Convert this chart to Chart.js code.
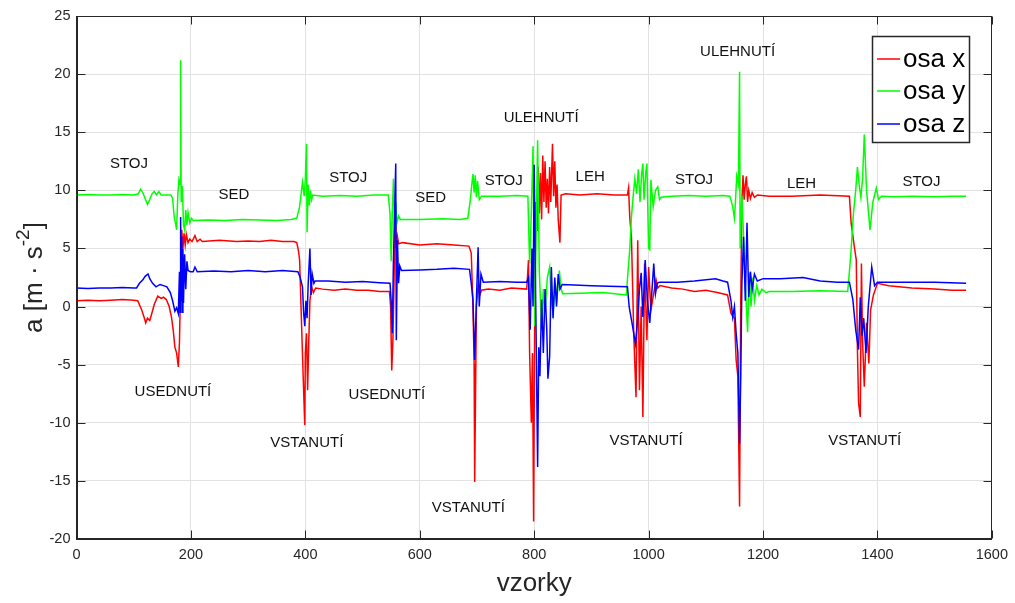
<!DOCTYPE html>
<html>
<head>
<meta charset="utf-8">
<script src="https://cdn.jsdelivr.net/npm/chart.js@4.4.1/dist/chart.umd.min.js"></script>
<style>
html,body{margin:0;padding:0;background:#fff;}
canvas{display:block;}
</style>
</head>
<body>
<canvas id="c" width="1015" height="603"></canvas>
<script>
// ---------- data ----------
const seriesNames = ['osa x', 'osa y', 'osa z'];
const xTickValues = [0, 200, 400, 600, 800, 1000, 1200, 1400, 1600];
const yTickValues = [-20, -15, -10, -5, 0, 5, 10, 15, 20, 25];
const xAxisTitle = 'vzorky';
const yAxisTitleParts = ['a [m · s', '-2', ']'];   // base, superscript, closing

const osaXSamples = [0,20,40,60,80,100,107,114,118,121,124,128,131,136,142,148,152,157,162,166,169,172,175,178,180,182,184,186,188,190,192,195,198,202,207,211,216,220,250,280,300,320,340,360,380,385,388,390,393,396,399,400,402,404,406,408,411,414,418,430,450,470,490,510,530,547,549,551,553,555,557,559,561,563,570,600,630,660,686,690,693,695,696,698,699,702,705,708,720,740,760,787,790,792,795,797,799,801,803,805,807,809,811,813,815,817,819,821,823,825,827,829,832,834,836,838,840,842,845,847,855,880,910,940,963,965,967,970,974,978,981,984,987,990,993,997,1000,1004,1013,1016,1020,1040,1060,1080,1100,1120,1138,1144,1150,1153,1156,1159,1161,1163,1165,1167,1169,1171,1173,1175,1178,1181,1185,1190,1211,1250,1300,1351,1354,1360,1363,1365,1367,1370,1372,1374,1377,1381,1385,1388,1393,1400,1420,1460,1500,1530,1555];
const osaXValues  = [0.5,0.55,0.5,0.55,0.6,0.55,0.5,-0.3,-0.9,-1.4,-1.0,-1.2,-0.7,0.2,0.9,0.7,0.8,0.6,0.0,-0.9,-2.0,-3.5,-4.0,-5.2,-3.0,2.0,6.6,5.0,6.3,5.3,6.2,5.5,5.8,5.6,6.1,5.6,5.8,5.6,5.7,5.6,5.65,5.6,5.7,5.6,5.6,5.5,4.8,4.0,-0.9,-5.7,-10.2,-4.0,-2.3,-7.2,-3.0,0.5,1.7,1.2,1.6,1.5,1.4,1.5,1.4,1.4,1.3,1.3,0.0,-5.5,-3.0,2.0,8.5,5.0,6.0,5.4,5.5,5.3,5.4,5.3,5.2,4.6,0.0,-4.9,-15.1,-5.0,0.0,1.8,1.0,1.4,1.5,1.4,1.6,1.5,4.0,-4.0,-10.0,-4.0,-18.5,0.0,9.0,6.5,12.0,8.0,11.5,7.5,13.0,9.0,12.5,8.5,11.0,8.0,12.0,9.0,14.0,9.5,12.5,8.5,10.5,7.5,5.5,9.6,9.7,9.6,9.7,9.6,9.6,10.2,7.7,6.0,-2.3,-7.8,5.7,-7.2,0.0,-9.5,3.7,-2.9,3.4,-0.3,2.3,1.6,1.8,1.6,1.5,1.3,1.4,1.2,1.0,-0.6,-1.0,-4.6,-6.0,-17.2,0.0,9.0,11.3,9.2,10.5,11.2,9.0,10.0,9.3,9.8,9.4,9.6,9.5,9.5,9.6,9.5,7.2,5.0,4.0,-3.7,-8.3,-9.5,3.7,-3.0,-6.9,-1.4,-4.9,-0.3,1.0,2.0,1.8,1.6,1.5,1.4,1.4];

const osaYSamples = [0,20,40,60,80,100,108,112,116,120,124,128,132,136,140,144,148,165,168,171,173,175,177,179,181,182,183,185,187,189,191,193,195,198,201,204,230,260,290,320,350,375,385,390,395,398,400,402,403,405,407,409,411,413,430,460,490,520,545,548,550,552,554,556,558,560,563,566,600,640,670,684,688,691,693,695,697,699,701,704,708,740,770,789,792,795,798,801,803,806,809,813,816,819,823,827,830,833,837,840,844,847,850,880,920,961,964,967,970,973,976,979,982,985,988,990,992,995,997,1000,1002,1004,1008,1012,1016,1019,1022,1040,1070,1100,1130,1142,1147,1150,1152,1154,1157,1159,1160,1163,1166,1169,1173,1176,1179,1182,1185,1189,1193,1198,1205,1211,1250,1300,1348,1351,1354,1358,1362,1365,1368,1371,1374,1377,1381,1387,1392,1398,1402,1407,1430,1460,1500,1530,1555];
const osaYValues  = [9.6,9.65,9.6,9.6,9.65,9.6,9.7,10.1,9.8,9.3,8.8,9.2,9.7,9.9,9.6,9.9,9.6,9.6,9.3,7.6,7.2,6.6,9.5,10.9,10.5,21.2,9.0,10.4,7.0,6.6,8.3,7.0,8.1,7.2,7.6,7.4,7.45,7.4,7.5,7.45,7.4,7.5,7.6,8.6,10.7,9.5,11.0,14.0,6.4,10.5,8.7,10.0,9.2,9.6,9.5,9.55,9.5,9.6,9.6,8.0,3.9,8.0,11.0,7.0,9.0,7.2,7.8,7.5,7.5,7.55,7.5,7.6,9.0,10.5,11.4,9.8,11.3,9.4,10.8,9.2,9.5,9.5,9.55,9.5,3.7,8.0,13.8,-1.7,5.0,14.3,3.0,-2.0,1.5,-0.5,2.5,3.4,0.5,-0.6,2.0,0.8,3.1,1.5,1.1,1.15,1.2,1.0,3.0,4.9,7.7,9.5,11.0,9.7,11.8,9.0,11.5,12.3,9.2,11.5,12.3,5.0,4.9,10.9,8.6,10.0,10.3,9.2,9.4,9.5,9.55,9.5,9.55,9.5,8.6,7.6,9.2,11.2,10.5,20.2,5.0,9.5,6.0,2.0,-2.2,2.9,0.0,2.5,0.5,1.8,1.0,1.5,1.2,1.3,1.3,1.35,1.3,3.0,4.9,8.0,10.0,12.0,10.5,9.4,11.0,14.8,10.0,6.6,9.0,10.2,9.2,9.5,9.45,9.5,9.45,9.5,9.5];

const osaZSamples = [0,20,40,60,80,100,105,110,116,120,125,128,133,139,146,152,158,164,168,172,175,178,180,181,182,183,184,185,186,187,189,191,193,195,199,204,207,211,240,270,300,330,360,387,391,395,397,399,401,403,405,408,410,412,415,417,440,470,500,530,548,550,552,554,556,558,559,561,563,565,568,600,630,660,687,690,693,696,699,702,704,707,711,740,770,787,790,793,796,798,800,802,804,806,808,810,813,816,819,822,824,827,830,833,836,839,842,845,849,870,900,930,963,966,972,977,981,984,987,990,994,998,1002,1006,1009,1012,1015,1019,1050,1080,1117,1130,1138,1144,1147,1150,1153,1156,1159,1161,1163,1166,1169,1172,1175,1178,1181,1185,1190,1200,1230,1270,1300,1330,1351,1357,1362,1367,1370,1373,1376,1380,1384,1390,1395,1400,1450,1500,1555];
const osaZValues  = [1.6,1.55,1.6,1.6,1.65,1.6,1.6,2.0,2.3,2.6,2.8,2.4,2.0,1.7,1.9,1.8,1.7,1.2,0.5,-0.4,-0.1,-0.6,3.0,-0.5,7.7,0.5,6.0,-0.5,5.0,0.3,4.5,1.5,3.9,3.1,3.0,3.0,3.4,3.0,3.05,3.0,3.1,3.0,3.1,3.0,2.5,1.7,-0.5,-1.7,0.5,-1.0,2.0,5.0,1.0,2.8,2.0,2.2,2.2,2.1,2.15,2.05,2.0,0.5,-2.3,4.0,8.0,12.3,-2.9,5.7,2.0,3.5,3.1,3.15,3.2,3.3,3.2,2.0,0.6,-4.6,0.5,5.1,0.0,2.8,2.1,2.15,2.1,2.1,2.5,-2.0,5.0,0.0,12.2,3.0,-5.0,-13.8,-3.5,-6.0,0.6,-4.0,1.5,-2.0,-6.2,-4.3,3.4,-1.0,2.5,0.0,2.8,1.5,1.9,1.85,1.8,1.75,1.7,0.0,-1.7,-3.2,-1.0,1.5,2.9,-0.9,4.0,0.5,-1.4,1.5,3.7,1.1,2.0,2.1,2.1,2.2,2.4,2.2,2.1,0.5,-0.9,0.0,-2.3,-4.0,-11.8,-6.3,2.0,6.0,0.5,7.2,0.8,3.0,1.5,2.8,2.2,2.4,2.4,2.5,2.2,2.1,2.1,0.6,-2.0,-3.7,0.8,-2.5,-1.0,-4.0,0.0,3.4,1.8,2.1,2.1,2.1,2.0];

// event labels anchored in data coordinates (sample, acceleration)
const labelTexts   = ['STOJ','SED','USEDNUTÍ','STOJ','VSTANUTÍ','USEDNUTÍ','SED','STOJ','ULEHNUTÍ','LEH','VSTANUTÍ','STOJ','VSTANUTÍ','ULEHNUTÍ','LEH','STOJ','VSTANUTÍ'];
const labelSamples = [91.7,275,168.6,475,402.6,542.4,619.2,746.7,812.2,897.8,685,1079.5,995.6,1155.5,1267.2,1476.9,1377.8];
const labelValues  = [12.26,9.6,-7.36,11.06,-11.75,-7.62,9.34,10.8,16.2,11.14,-17.34,10.89,-11.57,21.9,10.6,10.7,-11.57];

// ---------- chart ----------
const colors = ['#ff0000', '#00ff00', '#0000ff'];
const toPoints = (xs, ys) => xs.map((s, i) => ({x: s, y: ys[i]}));
const INK = '#262626';
const FONT = '"Liberation Sans", Arial, sans-serif';

const decor = {
  id: 'decor',
  beforeDraw(chart) {
    const c = chart.ctx;
    c.save();
    c.fillStyle = '#ffffff';
    c.fillRect(0, 0, chart.width, chart.height);
    c.restore();
  },
  afterDatasetsDraw(chart) {
    const c = chart.ctx;
    const a = chart.chartArea;
    const xs = chart.scales.x, ys = chart.scales.y;
    c.save();
    // event labels
    c.fillStyle = '#111111';
    c.font = '15px ' + FONT;
    c.textAlign = 'center';
    c.textBaseline = 'middle';
    labelTexts.forEach((t, i) => {
      c.fillText(t, xs.getPixelForValue(labelSamples[i]), ys.getPixelForValue(labelValues[i]));
    });
    // axes box
    c.strokeStyle = INK;
    c.lineWidth = 1;
    const L = Math.round(a.left) + 0.5, R = Math.round(a.right) - 0.5, T = Math.round(a.top) + 0.5, B = Math.round(a.bottom) - 0.5;
    c.strokeRect(L, T, R - L, B - T);
    // inward ticks on all four sides
    c.beginPath();
    xTickValues.forEach(v => {
      const p = Math.round(xs.getPixelForValue(v)) + 0.5;
      c.moveTo(p, B); c.lineTo(p, B - 8);
      c.moveTo(p, T); c.lineTo(p, T + 8);
    });
    yTickValues.forEach(v => {
      const p = Math.round(ys.getPixelForValue(v)) + 0.5;
      c.moveTo(L, p); c.lineTo(L + 8, p);
      c.moveTo(R, p); c.lineTo(R - 8, p);
    });
    c.stroke();
    // y axis title with a real superscript
    const big = '26px ' + FONT, small = '19px ' + FONT;
    c.font = big; const w0 = c.measureText(yAxisTitleParts[0]).width;
    const w2 = c.measureText(yAxisTitleParts[2]).width;
    c.font = small; const w1 = c.measureText(yAxisTitleParts[1]).width;
    const total = w0 + w1 + w2;
    const cy = (a.top + a.bottom) / 2;
    c.translate(42, cy);
    c.rotate(-Math.PI / 2);
    c.fillStyle = INK;
    c.textAlign = 'left';
    c.textBaseline = 'alphabetic';
    let px = -total / 2;
    c.font = big; c.fillText(yAxisTitleParts[0], px, 0); px += w0;
    c.font = small; c.fillText(yAxisTitleParts[1], px, -13); px += w1;
    c.font = big; c.fillText(yAxisTitleParts[2], px, 0);
    c.setTransform(1, 0, 0, 1, 0, 0);
    // legend
    const bx = 872.5, by = 36.5, bw = 97, bh = 106;
    c.fillStyle = '#ffffff';
    c.fillRect(bx, by, bw, bh);
    c.lineWidth = 1.5;
    c.strokeStyle = INK;
    c.strokeRect(bx, by, bw, bh);
    c.font = '26px ' + FONT;
    c.textAlign = 'left';
    c.textBaseline = 'middle';
    const rows = [59, 91, 124];
    seriesNames.forEach((n, i) => {
      c.strokeStyle = colors[i];
      c.lineWidth = 1.5;
      c.beginPath();
      c.moveTo(877, rows[i]); c.lineTo(900, rows[i]);
      c.stroke();
      c.fillStyle = '#000000';
      c.fillText(n, 903, rows[i] + 1);
    });
    c.restore();
  }
};

new Chart(document.getElementById('c'), {
  type: 'line',
  data: {
    datasets: [
      {label: seriesNames[0], data: toPoints(osaXSamples, osaXValues), borderColor: colors[0], order: 3},
      {label: seriesNames[1], data: toPoints(osaYSamples, osaYValues), borderColor: colors[1], order: 2},
      {label: seriesNames[2], data: toPoints(osaZSamples, osaZValues), borderColor: colors[2], order: 1}
    ]
  },
  options: {
    responsive: false,
    devicePixelRatio: 1,
    animation: false,
    parsing: false,
    normalized: true,
    elements: {
      line: {borderWidth: 1.5, tension: 0, fill: false, borderCapStyle: 'butt', borderJoinStyle: 'miter'},
      point: {radius: 0, hoverRadius: 0}
    },
    layout: {padding: {top: 16, right: 22.5, left: 0, bottom: 0}},
    plugins: {legend: {display: false}, tooltip: {enabled: false}},
    scales: {
      x: {
        type: 'linear', min: 0, max: 1600,
        afterBuildTicks: s => { s.ticks = xTickValues.map(v => ({value: v})); },
        afterFit: s => { s.height = 64; },
        grid: {color: '#e2e2e2', drawTicks: false},
        border: {display: true, color: INK},
        ticks: {color: INK, padding: 7, callback: v => String(v), font: {size: 14.5, family: FONT}, maxRotation: 0},
        title: {display: true, text: xAxisTitle, color: INK, padding: {top: 0, bottom: 4}, font: {size: 26, family: FONT}}
      },
      y: {
        type: 'linear', min: -20, max: 25,
        afterBuildTicks: s => { s.ticks = yTickValues.map(v => ({value: v})); },
        afterFit: s => { s.width = 76.5; },
        grid: {color: '#e2e2e2', drawTicks: false},
        border: {display: true, color: INK},
        ticks: {color: INK, padding: 6, callback: v => String(v), font: {size: 14.5, family: FONT}},
        title: {display: false}
      }
    }
  },
  plugins: [decor]
});
</script>
</body>
</html>
